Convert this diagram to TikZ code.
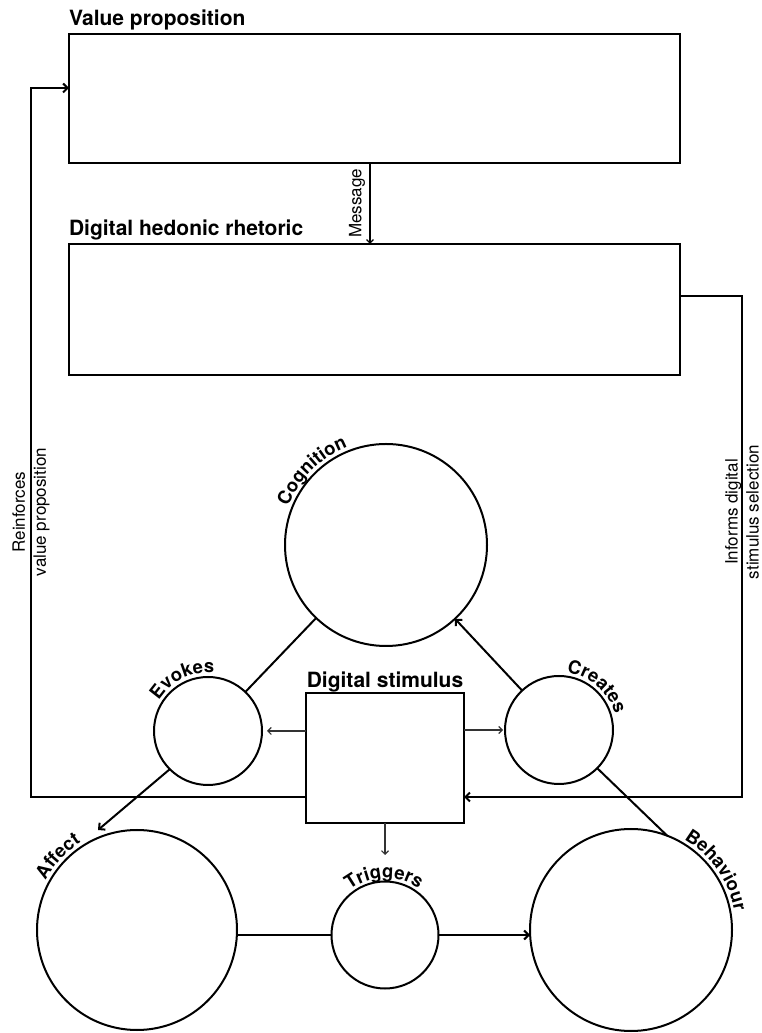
\documentclass[tikz,border=0pt]{standalone}
\usepackage{fontspec}
\setmainfont{TeX Gyre Heros}
\usetikzlibrary{arrows.meta,calc,decorations.text}

% font used for the labels that run round the circles
\newcommand\ringfont{\fontsize{18.5}{20}\selectfont\bfseries}
% curved label: #1 centre node, #2 baseline radius, #3 middle angle, #4 text
\newcommand\ringlabel[4]{%
  \path[decorate, decoration={text along path, text align=center,
        text={|\ringfont|#4}}]
    ($(#1)+(#3+80:#2)$) arc[start angle=#3+80, end angle=#3-80, radius=#2];}

\begin{document}
\begin{tikzpicture}[x=1pt, y=1pt,
  every node/.style={inner sep=0pt, outer sep=0pt},
  heavy/.style={line width=2pt},
  light/.style={line width=1.1pt, draw=black!80},
  boxnode/.style={draw, line width=2pt, rectangle, inner sep=0pt},
  ring/.style={draw, line width=2pt, circle, inner sep=0pt},
  title/.style={font=\fontsize{21}{25}\selectfont\bfseries},
  sidelabel/.style={font=\fontsize{17}{21}\selectfont, align=center, rotate=90},
  arr/.style={-{Straight Barb[length=4.5pt,width=9pt]}},
  smallarr/.style={-{Straight Barb[length=3.5pt,width=7pt]}}
]
\useasboundingbox (0,0) rectangle (762,1033);

% boxes
\node[boxnode, minimum width=611pt, minimum height=129pt] (vp)  at (374.5,934.5) {};
\node[boxnode, minimum width=611pt, minimum height=131pt] (dhr) at (374.5,723.5) {};
\node[boxnode, minimum width=158pt, minimum height=130pt] (ds)  at (385,275) {};

\node[title, anchor=base west] (vpt)  at ($(vp.north west)+(0,8)$)  {Value proposition};
\node[title, anchor=base west] (dhrt) at ($(dhr.north west)+(0,8)$) {Digital hedonic rhetoric};
\node[title, anchor=base] (dst) at ($(ds.north)+(0,5)$) {Digital stimulus};

% circles
\node[ring, minimum size=202pt] (cognition) at (386,488) {};
\node[ring, minimum size=108pt] (evokes)    at (208,302) {};
\node[ring, minimum size=108pt] (creates)   at (559,303) {};
\node[ring, minimum size=200pt] (affect)    at (137,103) {};
\node[ring, minimum size=202pt] (behaviour) at (631,103) {};
\node[ring, minimum size=107pt] (triggers)  at (385,98) {};

\ringlabel{cognition}{105}{135}{Cognition}
\ringlabel{evokes}{58}{116}{Evokes}
\ringlabel{creates}{58}{49}{Creates}
\ringlabel{affect}{104}{137}{Affect}
\ringlabel{behaviour}{105}{35}{Behaviour}
\ringlabel{triggers}{57}{91}{Triggers}

% bends of the feedback loops
\coordinate (rA) at (31,236);
\coordinate (rB) at (31,945);
\coordinate (iA) at (742,737);
\coordinate (iB) at (742,236);
\coordinate (mx) at (370,0);
\coordinate (trg) at (385,178);
\coordinate (affIn) at (98,203);

% message from value proposition to rhetoric
\draw[line width=1.3pt, smallarr] (vp.south -| mx) -- (dhr.north -| mx);
\node[font=\fontsize{17}{20}\selectfont, rotate=90, anchor=south] (msg)
  at ($(vp.south -| mx)!.5!(dhr.north -| mx)+(-5,0)$) {Message};

% feedback loops
\draw[heavy, arr] (ds.west |- rA) -- (rA) -- (rB) -- (vp.west |- rB);
\node[sidelabel] (reinf) at (31,521) {Reinforces\\value proposition};

\draw[heavy, arr] (dhr.east |- iA) -- (iA) -- (iB) -- (ds.east |- iB);
\node[sidelabel] (informs) at (742,521) {Informs digital\\stimulus selection};

% stimulus outputs
\draw[light, smallarr] (ds.west |- evokes.east) -- ([xshift=5pt]evokes.east);
\draw[light, smallarr, shorten >=2pt] (ds.east |- creates.west) -- (creates.west);
\draw[light, smallarr] (ds.south) -- (trg);

% relations between the circles
\draw[heavy] (cognition) -- (evokes);
\draw[heavy, arr] (creates) -- (cognition);
\draw[heavy, arr] (evokes.225) -- (affIn);
\draw[heavy] (creates.-45) -- (behaviour.69);
\draw[heavy] (affect.east |- triggers.west) -- (triggers.west);
\draw[heavy, arr] (triggers.east) -- (behaviour.west |- triggers.east);
\end{tikzpicture}
\end{document}
